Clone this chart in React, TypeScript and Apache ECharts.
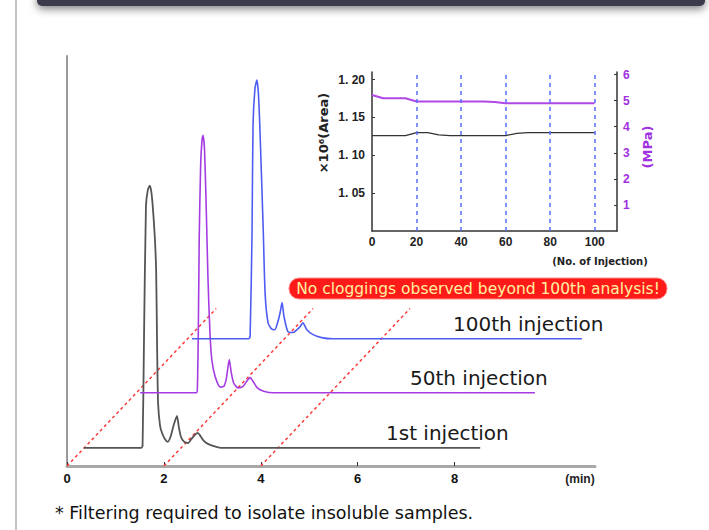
import React, { useEffect, useRef } from "react";
import * as echarts from "echarts";

// ---------- Main chromatograms ----------
// [time from the trace's own start (min), signal above its own baseline (a.u.)]
const trace1st: [number, number][] = [
  [0, 0], [1.18, 0], [1.21, 0.5], [1.24, 27], [1.28, 59], [1.32, 63], [1.36, 64], [1.39, 62.5],
  [1.42, 59], [1.46, 52], [1.49, 43.5], [1.51, 25], [1.53, 11], [1.57, 5.5], [1.61, 3.7],
  [1.67, 2.2], [1.73, 1.5], [1.79, 2.8], [1.85, 5.5], [1.92, 7.8], [1.96, 5], [2.0, 2.8],
  [2.06, 1.6], [2.15, 1.2], [2.22, 2.2], [2.29, 3.2], [2.35, 3.7], [2.4, 3], [2.47, 1.8],
  [2.56, 1.0], [2.7, 0.4], [2.85, 0], [8.18, 0],
];
const trace50th: [number, number][] = [
  [0, 0], [1.16, 0], [1.18, 0.5], [1.2, 14], [1.22, 38], [1.25, 56], [1.28, 62], [1.3, 62.8],
  [1.33, 59], [1.36, 47], [1.4, 28], [1.44, 15], [1.48, 8], [1.55, 3.9], [1.65, 1.4],
  [1.73, 1.6], [1.78, 3.5], [1.84, 8.1], [1.88, 5], [1.93, 2.4], [2.02, 1.2], [2.12, 1.5],
  [2.2, 2.8], [2.27, 3.7], [2.33, 2.8], [2.42, 1.2], [2.55, 0.4], [2.75, 0], [8.15, 0],
];
const trace100th: [number, number][] = [
  [0, 0], [1.17, 0], [1.2, 0.5], [1.24, 26], [1.26, 52], [1.3, 61], [1.34, 63.1], [1.37, 60],
  [1.4, 52], [1.47, 27], [1.51, 11], [1.57, 3.9], [1.64, 2.4], [1.71, 2.2], [1.77, 4],
  [1.82, 6.4], [1.86, 8.8], [1.9, 5.4], [1.98, 1.7], [2.09, 1.5], [2.17, 2.2], [2.23, 2.9],
  [2.29, 3.9], [2.37, 2.2], [2.5, 1.0], [2.7, 0.2], [2.9, 0], [8.05, 0],
];
const traceNames = ["1st injection", "50th injection", "100th injection"];
// waterfall origin of each trace on the main axes: [min, a.u.]
const traceOffsets: [number, number][] = [[0.35, 4.4], [1.51, 17.85], [2.58, 31.05]];
const traceColors = ["#555555", "#a53ce2", "#4d5df3"];
const mainTicks = [0, 2, 4, 6, 8];
// red diagonal guides: start times on the x axis, and their run [min, a.u.]
const guideStarts = [0, 2, 4];
const guideRun: [number, number] = [3.08, 38.4];

// ---------- Inset ----------
const injections = [0, 5, 10, 15, 20, 25, 30, 35, 40, 45, 50, 55, 60, 65, 70, 75, 80, 85, 90, 95, 100];
const areaValues = [1.126, 1.126, 1.126, 1.126, 1.13, 1.13, 1.127, 1.126, 1.126, 1.126, 1.126,
  1.126, 1.126, 1.129, 1.13, 1.13, 1.13, 1.13, 1.13, 1.13, 1.13];
const pressureValues = [5.22, 5.09, 5.09, 5.09, 4.97, 4.97, 4.97, 4.97, 4.97, 4.97, 4.97,
  4.95, 4.9, 4.9, 4.9, 4.9, 4.9, 4.9, 4.9, 4.9, 4.9];
const insetXTicks = [0, 20, 40, 60, 80, 100];
const areaTicks = [1.05, 1.1, 1.15, 1.2];
const pressureTicks = [1, 2, 3, 4, 5, 6];
const gridMarks = [20, 40, 60, 80, 100];

const FONT = '"Liberation Sans", Arial, Helvetica, sans-serif';
const WIDE = '"DejaVu Sans", Verdana, sans-serif';

export default function App() {
  const ref = useRef<HTMLDivElement>(null);
  useEffect(() => {
    if (!ref.current) return;
    const chart = echarts.init(ref.current, null, { renderer: "svg" });
    const traces = [trace1st, trace50th, trace100th];
    const traceSeries = traces.map((tr, i) => ({
      type: "line",
      name: traceNames[i],
      xAxisIndex: 0,
      yAxisIndex: 0,
      data: tr.map(([t, v]) => [t + traceOffsets[i][0], v + traceOffsets[i][1]]),
      showSymbol: false,
      smooth: 0.2,
      lineStyle: { color: traceColors[i], width: i === 0 ? 1.8 : 1.6 },
      z: 3,
    }));
    const guideSeries = guideStarts.map((s) => ({
      type: "line",
      xAxisIndex: 0,
      yAxisIndex: 0,
      data: [[s, 0], [s + guideRun[0], guideRun[1]]],
      showSymbol: false,
      lineStyle: { color: "#ff3a3a", width: 1.5, type: [3, 3] },
      z: 2,
    }));
    chart.setOption({
      animation: false,
      backgroundColor: "#ffffff",
      textStyle: { fontFamily: FONT },
      grid: [
        { left: 67, top: 56, width: 528, height: 410 },
        { left: 372, top: 72, width: 245, height: 159 },
      ],
      xAxis: [
        {
          gridIndex: 0, type: "value", min: 0, max: 10.9, interval: 2,
          axisLine: { lineStyle: { color: "#a8a8a8", width: 3 } },
          axisTick: { inside: true, length: 4, lineStyle: { color: "#333" }, customValues: mainTicks },
          axisLabel: { customValues: mainTicks, color: "#111", fontSize: 13, fontWeight: "bold", margin: 6, fontFamily: FONT,
            formatter: (v: number) => (mainTicks.includes(v) ? String(v) : "") },
          splitLine: { show: false },
        },
        {
          gridIndex: 1, type: "value", min: 0, max: 110, interval: 20,
          axisLine: { lineStyle: { color: "#333", width: 1.5 } },
          axisTick: { show: false },
          axisLabel: { customValues: insetXTicks, color: "#222", fontSize: 12, fontWeight: "bold", margin: 5, fontFamily: FONT,
            formatter: (v: number) => (insetXTicks.includes(v) ? String(v) : "") },
          splitLine: { show: false },
        },
      ],
      yAxis: [
        {
          gridIndex: 0, type: "value", min: 0, max: 100,
          axisLine: { show: true, lineStyle: { color: "#9a9a9a", width: 2 } },
          axisTick: { show: false }, axisLabel: { show: false }, splitLine: { show: false },
        },
        {
          gridIndex: 1, type: "value", position: "left", min: 1.0, max: 1.21, interval: 0.05,
          axisLine: { show: true, lineStyle: { color: "#333", width: 1.5 } },
          axisTick: { show: true, inside: true, length: 3, customValues: areaTicks, lineStyle: { color: "#333" } },
          axisLabel: { customValues: areaTicks, color: "#222", fontSize: 12, fontWeight: "bold", margin: 7, fontFamily: FONT,
            formatter: (v: number) => v.toFixed(2).replace(".", ". ") },
          splitLine: { show: false },
        },
        {
          gridIndex: 1, type: "value", position: "right", min: 0, max: 6.1, interval: 1,
          axisLine: { show: true, lineStyle: { color: "#333", width: 1.5 } },
          axisTick: { show: true, inside: true, length: 3, customValues: pressureTicks, lineStyle: { color: "#333" } },
          axisLabel: { customValues: pressureTicks, color: "#a030e0", fontSize: 12, fontWeight: "bold", margin: 6, fontFamily: FONT,
            formatter: (v: number) => (pressureTicks.includes(v) ? String(v) : "") },
          splitLine: { show: false },
        },
      ],
      series: [
        ...guideSeries,
        ...traceSeries,
        {
          type: "line", name: "Area", xAxisIndex: 1, yAxisIndex: 1,
          data: injections.map((n, i) => [n, areaValues[i]]),
          showSymbol: false, lineStyle: { color: "#333", width: 1.3 }, z: 4,
          markLine: {
            silent: true, symbol: ["none", "none"], label: { show: false },
            lineStyle: { color: "#5a6cff", width: 1.5, type: [4, 4] },
            data: gridMarks.map((m) => ({ xAxis: m })),
          },
        },
        {
          type: "line", name: "Pressure", xAxisIndex: 1, yAxisIndex: 2,
          data: injections.map((n, i) => [n, pressureValues[i]]),
          showSymbol: false, lineStyle: { color: "#b048e6", width: 2 }, z: 4,
        },
      ],
      graphic: [
        { type: "line", shape: { x1: 16, y1: 0, x2: 16, y2: 530 }, style: { stroke: "#c4c4c4", lineWidth: 2 } },
        {
          type: "rect", shape: { x: 37, y: -8, width: 668, height: 14, r: 5 },
          style: { fill: "#3a3a4c", shadowBlur: 8, shadowColor: "rgba(0,0,0,0.5)", shadowOffsetY: 3 },
        },
        {
          type: "text", x: 323, y: 133, rotation: Math.PI / 2,
          style: { text: "×10⁶(Area)", font: `bold 13px ${WIDE}`, fill: "#222", textAlign: "center", textVerticalAlign: "middle" },
        },
        {
          type: "text", x: 647, y: 147, rotation: Math.PI / 2,
          style: { text: "(MPa)", font: `bold 13px ${WIDE}`, fill: "#a030e0", textAlign: "center", textVerticalAlign: "middle" },
        },
        {
          type: "text", x: 600, y: 261,
          style: { text: "(No. of Injection)", font: `bold 10px ${WIDE}`, fill: "#222", textAlign: "center", textVerticalAlign: "middle" },
        },
        {
          type: "rect", z: 100, shape: { x: 289, y: 278, width: 378, height: 21, r: 10 },
          style: { fill: "#ff1a1a", stroke: "#ff8c8c", lineWidth: 1 },
        },
        {
          type: "text", z: 101, x: 478, y: 289,
          style: { text: "No cloggings observed beyond 100th analysis!", font: `15.5px ${WIDE}`, fill: "#fff0a0", textAlign: "center", textVerticalAlign: "middle" },
        },
        { type: "text", x: 453, y: 324, style: { text: traceNames[2], font: `20px ${WIDE}`, fill: "#1a1a1a", textVerticalAlign: "middle" } },
        { type: "text", x: 410, y: 378, style: { text: traceNames[1], font: `20px ${WIDE}`, fill: "#1a1a1a", textVerticalAlign: "middle" } },
        { type: "text", x: 386, y: 433, style: { text: traceNames[0], font: `20px ${WIDE}`, fill: "#1a1a1a", textVerticalAlign: "middle" } },
        { type: "text", x: 580, y: 479, style: { text: "(min)", font: `bold 12px ${FONT}`, fill: "#222", textAlign: "center", textVerticalAlign: "middle" } },
        {
          type: "text", x: 55, y: 513,
          style: { text: "* Filtering required to isolate insoluble samples.", font: `17.5px ${WIDE}`, fill: "#111", textVerticalAlign: "middle" },
        },
      ],
    });
    return () => chart.dispose();
  }, []);
  return (
    <div
      ref={ref}
      style={{ position: "fixed", left: 0, top: 0, width: 709, height: 530, background: "#fff" }}
    />
  );
}
